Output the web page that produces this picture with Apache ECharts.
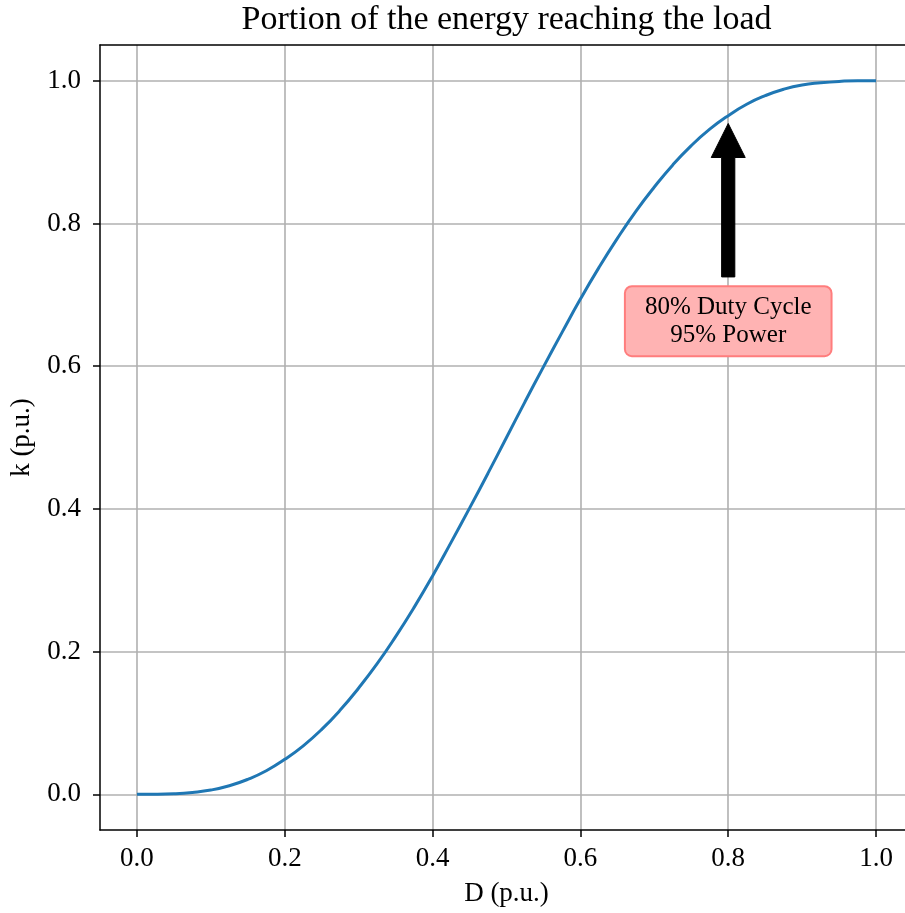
<!DOCTYPE html>
<html>
<head>
<meta charset="utf-8">
<script src="https://cdn.jsdelivr.net/npm/echarts@6/dist/echarts.min.js"></script>
<style>html,body{margin:0;padding:0;background:#fff;}#c{width:905px;height:913px;}</style>
</head>
<body>
<div id="c"></div>
<script>
// Data
const dutyCycle = [0, 0.025, 0.05, 0.075, 0.1, 0.125, 0.15, 0.175, 0.2, 0.225, 0.25, 0.275, 0.3, 0.325, 0.35, 0.375, 0.4, 0.425, 0.45, 0.475, 0.5,
                   0.525, 0.55, 0.575, 0.6, 0.625, 0.65, 0.675, 0.7, 0.725, 0.75, 0.775, 0.8, 0.825, 0.85, 0.875, 0.9, 0.925, 0.95, 0.975, 1.0];
const kValues = [0, 0.0001, 0.0008, 0.0027, 0.006, 0.012, 0.021, 0.033, 0.049, 0.068, 0.091, 0.118, 0.149, 0.183, 0.221, 0.262, 0.306, 0.353, 0.401, 0.450, 0.500,
                 0.550, 0.599, 0.647, 0.694, 0.738, 0.779, 0.817, 0.851, 0.882, 0.909, 0.932, 0.951, 0.967, 0.979, 0.988, 0.994, 0.997, 0.999, 1.000, 1.000];
const xTicks = [0, 0.2, 0.4, 0.6, 0.8, 1.0];
const yTicks = [0, 0.2, 0.4, 0.6, 0.8, 1.0];
const arrowStart = [0.8, 0.725];
const arrowTip = [0.8, 0.940];
const boxCenter = [0.8, 0.663];
const boxText = '80% Duty Cycle\n95% Power';
const titleText = 'Portion of the energy reaching the load';
const xName = 'D (p.u.)';
const yName = 'k (p.u.)';

const FONT = '"Liberation Serif", "Times New Roman", serif';
const chart = echarts.init(document.getElementById('c'), null, {renderer: 'canvas'});

const gridLeft = 100, gridTop = 45, gridW = 813, gridH = 785;

const axisCommon = {
  axisLine: {show: true, onZero: false, lineStyle: {color: '#000', width: 1.5}},
  axisTick: {show: true, length: 7, lineStyle: {color: '#000', width: 1.5}},
  axisLabel: {color: '#000', fontFamily: FONT, fontSize: 27,
              formatter: v => v.toFixed(1)},
  splitLine: {show: true, lineStyle: {color: '#b0b0b0', width: 1.6}},
  nameTextStyle: {color: '#000', fontFamily: FONT, fontSize: 27},
  nameLocation: 'middle'
};

chart.setOption({
  animation: false,
  backgroundColor: '#fff',
  grid: {left: gridLeft, top: gridTop, width: gridW, height: gridH, containLabel: false, outerBoundsMode: 'none'},
  graphic: [{
    type: 'text',
    x: gridLeft + gridW / 2, y: 20,
    style: {text: titleText, fill: '#000', font: '34px ' + FONT, textAlign: 'center', textVerticalAlign: 'middle'}
  }],
  xAxis: [Object.assign({}, axisCommon, {
    type: 'value', min: -0.05, max: 1.05, position: 'bottom',
    name: xName, nameGap: 50,
    axisTick: Object.assign({}, axisCommon.axisTick, {customValues: xTicks}),
    axisLabel: Object.assign({}, axisCommon.axisLabel, {customValues: xTicks, margin: 15})
  }), {
    type: 'value', min: -0.05, max: 1.05, position: 'top',
    axisLine: {show: true, onZero: false, lineStyle: {color: '#000', width: 1.5}},
    axisTick: {show: false}, axisLabel: {show: false}, splitLine: {show: false}
  }],
  yAxis: [Object.assign({}, axisCommon, {
    type: 'value', min: -0.05, max: 1.05, position: 'left',
    name: yName, nameGap: 65,
    axisTick: Object.assign({}, axisCommon.axisTick, {customValues: yTicks}),
    axisLabel: Object.assign({}, axisCommon.axisLabel, {customValues: yTicks, margin: 19})
  })],
  series: [{
    type: 'line',
    data: dutyCycle.map((d, i) => [d, kValues[i]]),
    showSymbol: false,
    smooth: true,
    lineStyle: {color: '#1f77b4', width: 3},
    z: 3
  }, {
    type: 'custom',
    data: [[arrowStart[0], arrowStart[1], arrowTip[0], arrowTip[1]]],
    renderItem: function (params, api) {
      const p0 = api.coord([api.value(0), api.value(1)]);
      const p1 = api.coord([api.value(2), api.value(3)]);
      const x = p1[0], yt = p1[1], yb = p0[1];
      const hw = 17, sw = 6.6, hl = 34;
      return {
        type: 'polygon',
        shape: {points: [[x, yt], [x + hw, yt + hl], [x + sw, yt + hl], [x + sw, yb], [x - sw, yb], [x - sw, yt + hl], [x - hw, yt + hl]]},
        style: {fill: '#000', stroke: '#000', lineWidth: 1}
      };
    },
    z: 5
  }, {
    type: 'custom',
    data: [boxCenter],
    renderItem: function (params, api) {
      const p = api.coord([api.value(0), api.value(1)]);
      return {
        type: 'text',
        x: p[0], y: p[1],
        style: {
          text: boxText, fill: '#000', font: '25px ' + FONT,
          align: 'center', verticalAlign: 'middle', lineHeight: 28,
          backgroundColor: '#ffb3b3', borderColor: '#ff7d7d', borderWidth: 2,
          borderRadius: 6, padding: [6, 19]
        }
      };
    },
    z: 6
  }]
});
</script>
</body>
</html>
